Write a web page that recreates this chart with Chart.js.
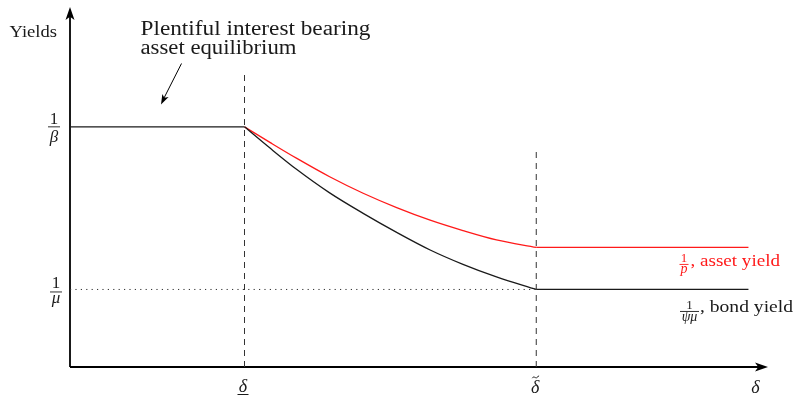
<!DOCTYPE html>
<html>
<head>
<meta charset="utf-8">
<script src="https://cdn.jsdelivr.net/npm/chart.js@4"></script>
<style>
  html, body { margin: 0; padding: 0; background: #fff; }
  #wrap { width: 796px; height: 397px; }
</style>
</head>
<body>
<div id="wrap"><canvas id="c" width="796" height="397"></canvas></div>
<script>
// Key points on the delta axis
const deltaLow = 2.5;
const deltaTilde = 6.68;
const deltaEnd = 9.72;

// Yield levels
const invBeta = 6.69;   // 1/beta
const invMu = 2.16;     // 1/mu
const invP = 3.33;      // 1/p once delta exceeds deltaTilde

// Falling section between deltaLow and deltaTilde
const curveX = [2.5, 2.87, 3.25, 3.72, 4.20, 4.68, 5.16, 5.63, 6.11, 6.68];
const bondY  = [6.69, 6.09, 5.50, 4.85, 4.28, 3.75, 3.26, 2.86, 2.51, 2.16];
const assetY = [6.69, 6.25, 5.81, 5.30, 4.84, 4.44, 4.09, 3.80, 3.54, 3.33];

// Heights of the two vertical guides
const guideTopLow = 8.19;
const guideTopTilde = 6.1;

const INK = '#1a1a1a';
const RED = '#ff1a1a';
const SERIF = '"Liberation Serif", "DejaVu Serif", serif';

const pts = (xs, ys) => xs.map((x, i) => ({ x, y: ys[i] }));

const datasets = [
  // vertical dashed guides
  { data: [{ x: deltaLow, y: 0 }, { x: deltaLow, y: guideTopLow }],
    borderColor: '#333', borderWidth: 1, borderDash: [6, 5] },
  { data: [{ x: deltaTilde, y: 0 }, { x: deltaTilde, y: guideTopTilde }],
    borderColor: '#333', borderWidth: 1, borderDash: [6, 5] },
  // dotted 1/mu reference
  { data: [{ x: 0, y: invMu }, { x: deltaTilde, y: invMu }],
    borderColor: '#333', borderWidth: 1, borderDash: [1.2, 4.2] },
  // bond yield
  { data: [{ x: 0, y: invBeta }, { x: deltaLow, y: invBeta }],
    borderColor: INK, borderWidth: 1.3 },
  { data: pts(curveX, bondY), borderColor: INK, borderWidth: 1.3, cubicInterpolationMode: 'monotone' },
  { data: [{ x: deltaTilde, y: invMu }, { x: deltaEnd, y: invMu }],
    borderColor: INK, borderWidth: 1.3 },
  // asset yield
  { data: pts(curveX, assetY), borderColor: RED, borderWidth: 1.3, cubicInterpolationMode: 'monotone' },
  { data: [{ x: deltaTilde, y: invP }, { x: deltaEnd, y: invP }],
    borderColor: RED, borderWidth: 1.3 }
];

function fitText(ctx, text, x, y, width, font, color) {
  ctx.save();
  ctx.font = font;
  ctx.fillStyle = color;
  ctx.textBaseline = 'alphabetic';
  ctx.textAlign = 'left';
  const w = ctx.measureText(text).width;
  ctx.translate(x, y);
  ctx.scale(width / w, 1);
  ctx.fillText(text, 0, 0);
  ctx.restore();
}

function centerText(ctx, text, cx, y, font, color) {
  ctx.save();
  ctx.font = font;
  ctx.fillStyle = color;
  ctx.textAlign = 'center';
  ctx.textBaseline = 'alphabetic';
  ctx.fillText(text, cx, y);
  ctx.restore();
}

function frac(ctx, num, den, cx, barY, half, numFont, denFont, numBase, denBase, color) {
  centerText(ctx, num, cx, barY - numBase, numFont, color);
  ctx.save();
  ctx.strokeStyle = color;
  ctx.lineWidth = 0.9;
  ctx.beginPath();
  ctx.moveTo(cx - half, barY);
  ctx.lineTo(cx + half, barY);
  ctx.stroke();
  ctx.restore();
  centerText(ctx, den, cx, barY + denBase, denFont, color);
}

function arrowHead(ctx, x1, y1, x2, y2, len, wid) {
  const a = Math.atan2(y2 - y1, x2 - x1);
  ctx.beginPath();
  ctx.moveTo(x2, y2);
  ctx.lineTo(x2 - len * Math.cos(a) + wid * Math.sin(a), y2 - len * Math.sin(a) - wid * Math.cos(a));
  ctx.lineTo(x2 - len * Math.cos(a) * 0.75, y2 - len * Math.sin(a) * 0.75);
  ctx.lineTo(x2 - len * Math.cos(a) - wid * Math.sin(a), y2 - len * Math.sin(a) + wid * Math.cos(a));
  ctx.closePath();
  ctx.fill();
}

const diagram = {
  id: 'diagram',
  beforeDatasetsDraw(chart) {
    const { ctx, chartArea: a } = chart;
    ctx.save();
    ctx.strokeStyle = '#000';
    ctx.fillStyle = '#000';
    ctx.lineWidth = 1.8;
    // vertical axis
    ctx.beginPath();
    ctx.moveTo(a.left, a.bottom);
    ctx.lineTo(a.left, a.top + 8);
    ctx.stroke();
    arrowHead(ctx, a.left, a.bottom, a.left, a.top - 1, 13, 4.5);
    // horizontal axis
    ctx.beginPath();
    ctx.moveTo(a.left, a.bottom);
    ctx.lineTo(a.right - 8, a.bottom);
    ctx.stroke();
    arrowHead(ctx, a.left, a.bottom, a.right, a.bottom, 13, 4.5);
    ctx.restore();
  },
  afterDatasetsDraw(chart) {
    const { ctx } = chart;
    const xs = chart.scales.x, ys = chart.scales.y;
    const body = '16px ' + SERIF;
    const mathIt = 'italic 18px ' + SERIF;

    // axis title
    fitText(ctx, 'Yields', 9.5, 37, 47.5, body, INK);

    // annotation with arrow
    const big = '20px ' + SERIF;
    fitText(ctx, 'Plentiful interest bearing', 140.5, 35, 230, big, INK);
    fitText(ctx, 'asset equilibrium', 140.5, 53.5, 156, big, INK);
    ctx.save();
    ctx.strokeStyle = '#000';
    ctx.fillStyle = '#000';
    ctx.lineWidth = 1;
    ctx.beginPath();
    ctx.moveTo(181.5, 63.5);
    ctx.lineTo(163, 100);
    ctx.stroke();
    arrowHead(ctx, 181.5, 63.5, 161, 104.5, 10, 3.5);
    ctx.restore();

    // y-axis fractions
    const yB = ys.getPixelForValue(invBeta);
    frac(ctx, '1', 'β', 54, yB, 6, '17px ' + SERIF, 'italic 17px ' + SERIF, 3, 15, INK);
    const yM = ys.getPixelForValue(invMu);
    frac(ctx, '1', 'μ', 56, yM + 2.5, 6, '17px ' + SERIF, 'italic 17px ' + SERIF, 3.5, 11.5, INK);

    // x-axis labels
    const xl = xs.getPixelForValue(deltaLow) - 1.5;
    centerText(ctx, 'δ', xl, 391.5, mathIt, INK);
    ctx.save();
    ctx.strokeStyle = INK;
    ctx.lineWidth = 1;
    ctx.beginPath();
    ctx.moveTo(xl - 5.5, 394.5);
    ctx.lineTo(xl + 5.5, 394.5);
    ctx.stroke();
    ctx.restore();
    const xt = xs.getPixelForValue(deltaTilde) - 1;
    centerText(ctx, 'δ', xt, 392.5, mathIt, INK);
    // tilde accent
    ctx.save();
    ctx.strokeStyle = INK;
    ctx.lineWidth = 1;
    ctx.beginPath();
    ctx.moveTo(xt - 3, 378.2);
    ctx.bezierCurveTo(xt - 1.5, 375.3, xt + 0.5, 378.8, xt + 1.5, 377.6);
    ctx.bezierCurveTo(xt + 2.5, 376.8, xt + 3, 376.2, xt + 3.8, 375.8);
    ctx.stroke();
    ctx.restore();
    centerText(ctx, 'δ', 755.5, 393, mathIt, INK);

    // series labels
    const yP = ys.getPixelForValue(invP);
    frac(ctx, '1', 'p', 684, yP + 17, 4.5, '13px ' + SERIF, 'italic 14px ' + SERIF, 2, 9, RED);
    fitText(ctx, ', asset yield', 690.5, yP + 19, 89.5, '17px ' + SERIF, RED);
    frac(ctx, '1', 'ψμ', 689.5, yM + 22, 9.5, '13px ' + SERIF, 'italic 14px ' + SERIF, 2, 10, INK);
    fitText(ctx, ', bond yield', 700, yM + 22.5, 93, '17px ' + SERIF, INK);
  }
};

new Chart(document.getElementById('c'), {
  type: 'line',
  data: { datasets },
  options: {
    responsive: false,
    animation: false,
    layout: { padding: { left: 70, right: 28, top: 8, bottom: 30 } },
    elements: {
      point: { radius: 0, hoverRadius: 0 },
      line: { fill: false, borderCapStyle: 'butt', tension: 0 }
    },
    plugins: { legend: { display: false }, tooltip: { enabled: false } },
    scales: {
      x: { type: 'linear', min: 0, max: 10, display: false },
      y: { type: 'linear', min: 0, max: 10, display: false }
    }
  },
  plugins: [diagram]
});
</script>
</body>
</html>
